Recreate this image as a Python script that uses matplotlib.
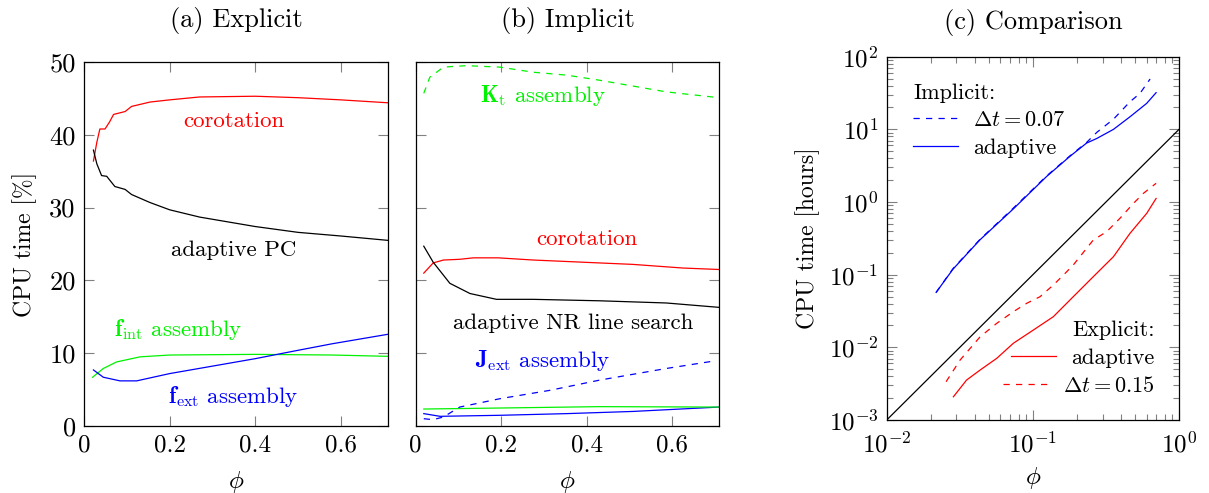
import matplotlib
matplotlib.use("Agg")
import matplotlib.pyplot as plt
from matplotlib.ticker import FixedLocator, FuncFormatter, LogLocator, NullFormatter

plt.rcParams['font.family'] = 'serif'
plt.rcParams['font.serif'] = ['cmr10']
plt.rcParams['mathtext.fontset'] = 'cm'
plt.rcParams['axes.formatter.use_mathtext'] = True
plt.rcParams['axes.unicode_minus'] = True

# ---------------- Panel (a) Explicit ----------------
a_corot_x = [0.022, 0.030, 0.037, 0.049, 0.060, 0.069, 0.096, 0.111, 0.154, 0.20, 0.27, 0.40, 0.50, 0.60, 0.71]
a_corot_y = [36.4, 39.0, 40.8, 40.8, 41.8, 42.8, 43.2, 43.9, 44.5, 44.8, 45.2, 45.3, 45.1, 44.8, 44.4]
a_pc_x = [0.022, 0.030, 0.041, 0.053, 0.072, 0.096, 0.111, 0.154, 0.20, 0.27, 0.40, 0.50, 0.60, 0.71]
a_pc_y = [37.9, 36.0, 34.4, 34.3, 32.9, 32.5, 31.8, 30.7, 29.7, 28.7, 27.4, 26.6, 26.1, 25.5]
a_fint_x = [0.020, 0.045, 0.076, 0.131, 0.20, 0.40, 0.58, 0.71]
a_fint_y = [6.7, 7.9, 8.8, 9.5, 9.75, 9.84, 9.75, 9.57]
a_fext_x = [0.022, 0.045, 0.084, 0.123, 0.20, 0.40, 0.50, 0.58, 0.71]
a_fext_y = [7.7, 6.7, 6.2, 6.2, 7.2, 9.25, 10.4, 11.3, 12.6]

# ---------------- Panel (b) Implicit ----------------
b_kt_x = [0.019, 0.033, 0.065, 0.119, 0.197, 0.275, 0.353, 0.43, 0.508, 0.586, 0.709]
b_kt_y = [45.7, 47.9, 49.3, 49.5, 49.3, 48.6, 48.2, 47.5, 46.7, 45.9, 45.1]
b_corot_x = [0.019, 0.041, 0.065, 0.103, 0.135, 0.193, 0.275, 0.391, 0.508, 0.625, 0.709]
b_corot_y = [21.0, 22.4, 22.8, 22.9, 23.1, 23.1, 22.8, 22.5, 22.2, 21.7, 21.5]
b_nr_x = [0.019, 0.041, 0.080, 0.127, 0.189, 0.275, 0.43, 0.586, 0.709]
b_nr_y = [24.7, 22.5, 19.6, 18.2, 17.4, 17.4, 17.2, 16.9, 16.3]
b_jext_x = [0.019, 0.041, 0.065, 0.103, 0.197, 0.314, 0.43, 0.586, 0.695]
b_jext_y = [1.0, 0.87, 1.24, 2.6, 3.75, 4.9, 6.3, 7.9, 8.9]
b_blue_x = [0.019, 0.057, 0.197, 0.353, 0.508, 0.709]
b_blue_y = [1.7, 1.33, 1.47, 1.7, 2.0, 2.6]
b_green_x = [0.019, 0.197, 0.43, 0.709]
b_green_y = [2.33, 2.47, 2.66, 2.6]

# ---------------- Panel (c) Comparison ----------------
c_imp_ad_x = [0.0218, 0.0284, 0.0434, 0.0733, 0.124, 0.179, 0.233, 0.274, 0.356, 0.462, 0.601, 0.697]
c_imp_ad_y = [0.0571, 0.119, 0.301, 0.80, 2.24, 4.24, 6.47, 7.5, 10.0, 14.9, 22.8, 32.0]
c_imp_dt_x = [0.0218, 0.0284, 0.0434, 0.0733, 0.124, 0.179, 0.233, 0.274, 0.356, 0.462, 0.541, 0.634]
c_imp_dt_y = [0.0571, 0.121, 0.305, 0.82, 2.28, 4.30, 6.60, 9.1, 13.8, 24.0, 31.3, 49.3]
ref_x = [0.01, 1.0]
ref_y = [0.001, 10.0]
c_exp_dt_x = [0.0255, 0.0318, 0.0436, 0.0566, 0.0736, 0.0908, 0.112, 0.138, 0.162, 0.189, 0.259, 0.320, 0.394, 0.488, 0.570, 0.697]
c_exp_dt_y = [0.00337, 0.0067, 0.0140, 0.0214, 0.0310, 0.0404, 0.0498, 0.0721, 0.0989, 0.136, 0.300, 0.391, 0.596, 0.959, 1.315, 1.81]
c_exp_ad_x = [0.0286, 0.0352, 0.0436, 0.0566, 0.0736, 0.1007, 0.138, 0.189, 0.259, 0.356, 0.462, 0.601, 0.697]
c_exp_ad_y = [0.00209, 0.00355, 0.00488, 0.00706, 0.0114, 0.0173, 0.0264, 0.0498, 0.0938, 0.177, 0.371, 0.698, 1.12]

RED = (1, 0, 0)
GREEN = (0, 0.95, 0)
BLUE = (0, 0, 1)
LW = 0.9
DASH = (0, (5, 5))
ANNFS = 16.5
TITLEFS = 19
LABELFS = 17
LEGFS = 16

fig = plt.figure(figsize=(12.09, 4.93), dpi=100)
ax_a = fig.add_axes([0.0695, 0.1359, 0.2514, 0.7383])
ax_b = fig.add_axes([0.3438, 0.1359, 0.2511, 0.7383])
ax_c = fig.add_axes([0.7334, 0.1480, 0.2418, 0.7370])

for ax in (ax_a, ax_b, ax_c):
    ax.tick_params(which='both', direction='in', top=True, right=True,
                   color='0.5', width=0.8, labelsize=18)
    ax.tick_params(which='major', length=7)
    ax.tick_params(which='minor', length=4)
    for s in ax.spines.values():
        s.set_linewidth(0.9)

fmt = FuncFormatter(lambda v, p: f'{v:g}')
for ax in (ax_a, ax_b):
    ax.set_xlim(0, 0.71)
    ax.set_ylim(0, 50)
    ax.xaxis.set_major_locator(FixedLocator([0, 0.2, 0.4, 0.6]))
    ax.yaxis.set_major_locator(FixedLocator([0, 10, 20, 30, 40, 50]))
    ax.xaxis.set_major_formatter(fmt)
    ax.yaxis.set_major_formatter(fmt)
    ax.tick_params(axis='x', pad=6)
    ax.tick_params(axis='y', pad=6, labelsize=19)
    ax.set_xlabel(r'$\phi$', fontsize=18, labelpad=9)

# (a)
ax_a.plot(a_corot_x, a_corot_y, color=RED, lw=LW)
ax_a.plot(a_pc_x, a_pc_y, color='k', lw=LW)
ax_a.plot(a_fint_x, a_fint_y, color=GREEN, lw=LW)
ax_a.plot(a_fext_x, a_fext_y, color=BLUE, lw=LW)
ax_a.text(0.349, 41.8, 'corotation', color=RED, fontsize=ANNFS, ha='center', va='center')
ax_a.text(0.349, 24.1, 'adaptive PC', color='k', fontsize=ANNFS, ha='center', va='center')
ax_a.text(0.22, 13.2, r'$\mathbf{f}_{\mathrm{int}}$ assembly', color=GREEN, fontsize=ANNFS, ha='center', va='center')
ax_a.text(0.349, 4.1, r'$\mathbf{f}_{\mathrm{ext}}$ assembly', color=BLUE, fontsize=ANNFS, ha='center', va='center')
ax_a.set_ylabel('CPU time [%]', fontsize=LABELFS, labelpad=9)
ax_a.set_title('(a) Explicit', fontsize=TITLEFS, pad=25)

# (b)
ax_b.plot(b_kt_x, b_kt_y, color=GREEN, lw=LW, ls=DASH)
ax_b.plot(b_corot_x, b_corot_y, color=RED, lw=LW)
ax_b.plot(b_nr_x, b_nr_y, color='k', lw=LW)
ax_b.plot(b_jext_x, b_jext_y, color=BLUE, lw=LW, ls=DASH)
ax_b.plot(b_blue_x, b_blue_y, color=BLUE, lw=LW)
ax_b.plot(b_green_x, b_green_y, color=GREEN, lw=LW)
ax_b.text(0.298, 45.4, r'$\mathbf{K}_{\mathrm{t}}$ assembly', color=GREEN, fontsize=ANNFS, ha='center', va='center')
ax_b.text(0.40, 25.7, 'corotation', color=RED, fontsize=ANNFS, ha='center', va='center')
ax_b.text(0.368, 14.1, 'adaptive NR line search', color='k', fontsize=ANNFS, ha='center', va='center')
ax_b.text(0.298, 9.0, r'$\mathbf{J}_{\mathrm{ext}}$ assembly', color=BLUE, fontsize=ANNFS, ha='center', va='center')
ax_b.tick_params(axis='y', labelleft=False)
ax_b.set_title('(b) Implicit', fontsize=TITLEFS, pad=25)

# (c)
ax_c.set_xscale('log')
ax_c.set_yscale('log')
ax_c.set_xlim(0.01, 1)
ax_c.set_ylim(0.001, 100)
ax_c.xaxis.set_major_locator(LogLocator(base=10, numticks=10))
ax_c.yaxis.set_major_locator(LogLocator(base=10, numticks=10))
ax_c.xaxis.set_minor_locator(LogLocator(base=10, subs=range(2, 10), numticks=20))
ax_c.yaxis.set_minor_locator(LogLocator(base=10, subs=range(2, 10), numticks=20))
ax_c.xaxis.set_minor_formatter(NullFormatter())
ax_c.yaxis.set_minor_formatter(NullFormatter())
ax_c.tick_params(axis='x', pad=8)
ax_c.tick_params(axis='y', pad=6)
ax_c.set_xlabel(r'$\phi$', fontsize=18, labelpad=6)

l1, = ax_c.plot(c_imp_dt_x, c_imp_dt_y, color=BLUE, lw=LW, ls=DASH, label=r'$\Delta t = 0.07$')
l2, = ax_c.plot(c_imp_ad_x, c_imp_ad_y, color=BLUE, lw=LW, label='adaptive')
ax_c.plot(ref_x, ref_y, color='k', lw=LW)
l3, = ax_c.plot(c_exp_ad_x, c_exp_ad_y, color=RED, lw=LW, label='adaptive')
l4, = ax_c.plot(c_exp_dt_x, c_exp_dt_y, color=RED, lw=LW, ls=DASH, label=r'$\Delta t = 0.15$')

leg1 = ax_c.legend(handles=[l1, l2], title='Implicit:', loc='upper left', frameon=False,
                   fontsize=LEGFS, title_fontsize=LEGFS, alignment='left', handlelength=2.0,
                   handletextpad=0.7, labelspacing=0.35, borderaxespad=0.9, borderpad=0.3)
ax_c.add_artist(leg1)
leg2 = ax_c.legend(handles=[l3, l4], title='Explicit:', loc='lower right', frameon=False,
                   fontsize=LEGFS, title_fontsize=LEGFS, alignment='right', handlelength=2.0,
                   handletextpad=0.7, labelspacing=0.35, borderaxespad=0.8, borderpad=0.3)
for vp in leg2._legend_handle_box.get_children():
    vp.align = 'right'

ax_c.set_ylabel('CPU time [hours]', fontsize=LABELFS, labelpad=6)
ax_c.set_title('(c) Comparison', fontsize=TITLEFS, pad=20)

fig.savefig('out.png', dpi=100)
